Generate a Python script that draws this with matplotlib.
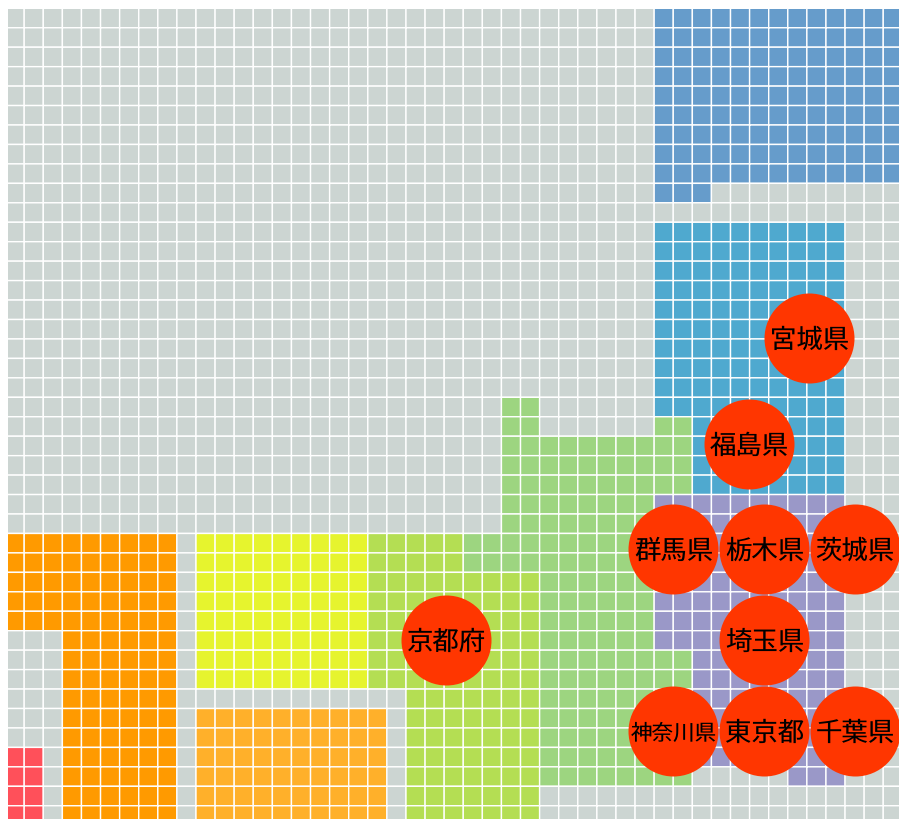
import numpy as np
import matplotlib
matplotlib.use("Agg")
import matplotlib.pyplot as plt
from matplotlib.colors import ListedColormap

plt.rcParams['font.family'] = ['Noto Sans CJK JP', 'DejaVu Sans']
plt.rcParams['text.hinting'] = 'none'

N_COLS = 47
N_ROWS = 42

# palette index -> colour (0 = empty cell)
palette = ['#ccd5d2', '#ff505a', '#ff9a00', '#e6f42e', '#ffb02a',
           '#b4de53', '#9dd580', '#9a98c8', '#4fa9cf', '#669ccb']

# group, first col, last col, first row, last row
blocks_red = [(1, 0, 1, 38, 41)]
blocks_orange = [(2, 0, 8, 27, 31), (2, 3, 8, 32, 41)]
blocks_yellow = [(3, 10, 18, 27, 34)]
blocks_light_orange = [(4, 10, 19, 36, 41)]
blocks_yellowgreen = [(5, 19, 23, 27, 28), (5, 19, 27, 29, 34), (5, 21, 27, 35, 41)]
blocks_green = [(6, 26, 27, 20, 21), (6, 34, 35, 21, 21), (6, 26, 35, 22, 24),
                (6, 26, 33, 25, 26), (6, 24, 33, 27, 28), (6, 28, 33, 29, 32),
                (6, 28, 35, 33, 39)]
blocks_purple = [(7, 34, 43, 25, 32), (7, 36, 43, 33, 38), (7, 41, 43, 39, 39)]
blocks_teal = [(8, 34, 43, 11, 20), (8, 36, 43, 21, 24)]
blocks_blue = [(9, 34, 46, 0, 8), (9, 34, 36, 9, 9)]

labels = ['宮城県', '福島県', '群馬県', '栃木県', '茨城県',
          '埼玉県', '京都府', '神奈川県', '東京都', '千葉県']
label_col = [42.13, 38.97, 35.0, 39.75, 44.5, 39.75, 23.1, 35.0, 39.75, 44.5]
label_row = [16.94, 22.38, 27.8, 27.8, 27.8, 32.47, 32.47, 37.15, 37.15, 37.15]
label_size = [19, 19, 19, 19, 19, 19, 19, 15.5, 19, 19]

W, H = 899, 819
fig = plt.figure(figsize=(W / 100, H / 100), dpi=100, facecolor='white')
ax = fig.add_axes([8 / W, 0, (W - 8) / W, (H - 8) / H])

grid = np.zeros((N_ROWS, N_COLS), dtype=int)
for group in (blocks_red, blocks_orange, blocks_yellow, blocks_light_orange,
              blocks_yellowgreen, blocks_green, blocks_purple, blocks_teal, blocks_blue):
    for g, c0, c1, r0, r1 in group:
        grid[r0:r1 + 1, c0:c1 + 1] = g

mesh = ax.pcolormesh(np.arange(N_COLS + 1), np.arange(N_ROWS + 1), grid,
                     cmap=ListedColormap(palette), vmin=-0.5, vmax=len(palette) - 0.5,
                     edgecolors='white', linewidth=1.0, antialiased=True)
mesh.set_snap(False)

ax.set_xlim((8 - 5.1) / 19.09, (W - 5.1) / 19.09)
ax.set_ylim((H - 8.3) / 19.45, (8 - 8.3) / 19.45)
ax.axis('off')

ax.scatter(label_col, label_row, s=(90 * 0.72) ** 2, c='#ff3600', linewidths=0, zorder=3)
for name, c, r, fs in zip(labels, label_col, label_row, label_size):
    ax.annotate(name, (c, r), xytext=(0.4, -1.8), textcoords='offset points',
                ha='center', va='center', fontsize=fs, color='black', zorder=4)

fig.savefig('out.png', dpi=100, facecolor='white')
